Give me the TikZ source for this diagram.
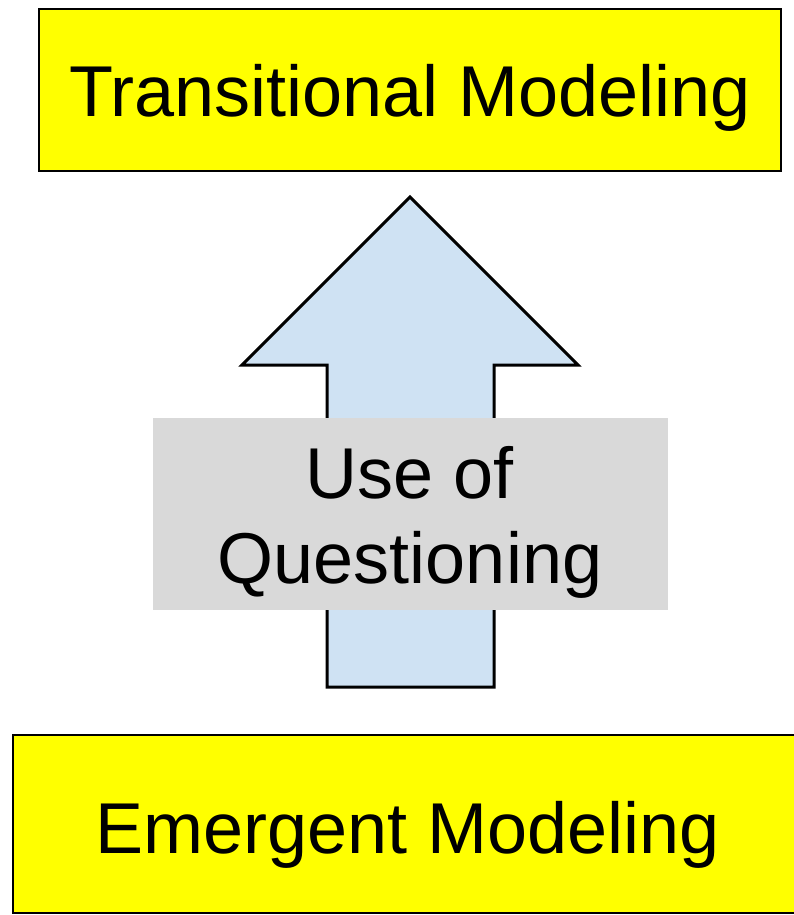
\documentclass[tikz,border=0pt]{standalone}
\usepackage{fontspec}
\setmainfont{Liberation Sans}
\definecolor{boxyellow}{HTML}{FFFF00}
\definecolor{arrowblue}{HTML}{CFE2F3}
\definecolor{labelgray}{HTML}{D9D9D9}
\tikzset{
  ybox/.style={draw=black, line width=2.8pt, fill=boxyellow, rectangle, inner sep=0pt},
  gbox/.style={fill=labelgray, rectangle, inner sep=0pt, minimum width=515pt, minimum height=192pt},
  bigtext/.style={font=\fontsize{72}{85}\selectfont, inner sep=0pt, text=black},
  blockarrow/.style={draw=black, line width=3pt, fill=arrowblue, line join=miter}
}
\begin{document}
\begin{tikzpicture}[x=1pt, y=-1pt]
\useasboundingbox (0,0) rectangle (794,915);
\fill[white] (0,0) rectangle (794,915);
% top box
\node[ybox, minimum width=742pt, minimum height=162pt] (top) at (410,90) {};
\node[bigtext, anchor=base] (toptext) at (410,117) {Transitional Modeling};
% bottom box (runs past the right edge)
\node[ybox, minimum width=797pt, minimum height=178pt] (bottom) at (411.5,824) {};
\node[bigtext, anchor=base] (bottomtext) at (407.5,853) {Emergent Modeling};
% block arrow
\draw[blockarrow] (327,687) -- (327,365) -- (242,365) -- (410,197) -- (578,365) -- (494,365) -- (494,687) -- cycle;
% gray label
\node[gbox] (q) at (410,514) {};
\node[bigtext, anchor=base] (qline1) at (410,498) {Use of};
\node[bigtext, anchor=base] (qline2) at (410,583) {Questioning};
\end{tikzpicture}
\end{document}
